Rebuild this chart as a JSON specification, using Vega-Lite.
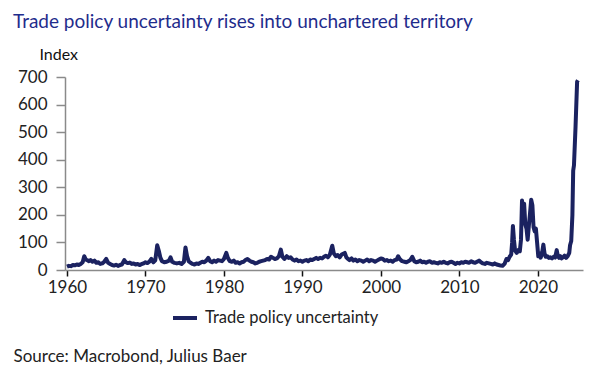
{
  "$schema": "https://vega.github.io/schema/vega-lite/v6.json",
  "width": 518,
  "height": 193,
  "autosize": {"type": "none"},
  "padding": {"left": 65, "top": 77, "right": 13, "bottom": 106},
  "background": "white",
  "config": {
    "font": "Lato",
    "view": {"stroke": null},
    "axis": {"grid": false, "labelFont": "Lato", "titleFont": "Lato"}
  },
  "title": {
    "text": "Trade policy uncertainty rises into unchartered territory",
    "anchor": "start",
    "frame": "group",
    "dx": -52,
    "dy": -10,
    "fontSize": 19,
    "fontWeight": "normal",
    "font": "Lato",
    "color": "#1f2c8c"
  },
  "data": {
    "values": [
      {"t": 1960.0, "v": 12}, {"t": 1960.25, "v": 15}, {"t": 1960.5, "v": 14}, {"t": 1960.75, "v": 18},
      {"t": 1961.0, "v": 17}, {"t": 1961.25, "v": 20}, {"t": 1961.5, "v": 18}, {"t": 1961.75, "v": 22},
      {"t": 1962.0, "v": 28}, {"t": 1962.2, "v": 50}, {"t": 1962.4, "v": 38}, {"t": 1962.6, "v": 35}, {"t": 1962.8, "v": 32},
      {"t": 1963.0, "v": 36}, {"t": 1963.25, "v": 30}, {"t": 1963.5, "v": 34}, {"t": 1963.75, "v": 26},
      {"t": 1964.0, "v": 28}, {"t": 1964.25, "v": 22}, {"t": 1964.5, "v": 24}, {"t": 1964.75, "v": 30},
      {"t": 1965.0, "v": 40}, {"t": 1965.25, "v": 26}, {"t": 1965.5, "v": 22}, {"t": 1965.75, "v": 18},
      {"t": 1966.0, "v": 16}, {"t": 1966.25, "v": 19}, {"t": 1966.5, "v": 15}, {"t": 1966.75, "v": 18},
      {"t": 1967.0, "v": 20}, {"t": 1967.3, "v": 36}, {"t": 1967.5, "v": 28}, {"t": 1967.75, "v": 25},
      {"t": 1968.0, "v": 27}, {"t": 1968.25, "v": 22}, {"t": 1968.5, "v": 24}, {"t": 1968.75, "v": 20},
      {"t": 1969.0, "v": 22}, {"t": 1969.25, "v": 18}, {"t": 1969.5, "v": 21}, {"t": 1969.75, "v": 24},
      {"t": 1970.0, "v": 28}, {"t": 1970.25, "v": 25}, {"t": 1970.5, "v": 30}, {"t": 1970.75, "v": 40},
      {"t": 1971.0, "v": 28}, {"t": 1971.25, "v": 35}, {"t": 1971.5, "v": 90}, {"t": 1971.7, "v": 70}, {"t": 1971.9, "v": 45},
      {"t": 1972.1, "v": 32}, {"t": 1972.4, "v": 28}, {"t": 1972.7, "v": 30},
      {"t": 1973.0, "v": 34}, {"t": 1973.2, "v": 46}, {"t": 1973.4, "v": 30}, {"t": 1973.7, "v": 26},
      {"t": 1974.0, "v": 24}, {"t": 1974.3, "v": 26}, {"t": 1974.6, "v": 22}, {"t": 1974.9, "v": 30},
      {"t": 1975.1, "v": 82}, {"t": 1975.3, "v": 50}, {"t": 1975.5, "v": 32}, {"t": 1975.75, "v": 26},
      {"t": 1976.0, "v": 22}, {"t": 1976.25, "v": 20}, {"t": 1976.5, "v": 24}, {"t": 1976.75, "v": 22},
      {"t": 1977.0, "v": 26}, {"t": 1977.25, "v": 30}, {"t": 1977.5, "v": 28}, {"t": 1977.75, "v": 34},
      {"t": 1978.0, "v": 44}, {"t": 1978.25, "v": 32}, {"t": 1978.5, "v": 28}, {"t": 1978.75, "v": 34},
      {"t": 1979.0, "v": 30}, {"t": 1979.25, "v": 36}, {"t": 1979.5, "v": 34}, {"t": 1979.75, "v": 32},
      {"t": 1980.0, "v": 40}, {"t": 1980.3, "v": 62}, {"t": 1980.5, "v": 44}, {"t": 1980.75, "v": 32},
      {"t": 1981.0, "v": 30}, {"t": 1981.25, "v": 34}, {"t": 1981.5, "v": 26}, {"t": 1981.75, "v": 28},
      {"t": 1982.0, "v": 24}, {"t": 1982.25, "v": 28}, {"t": 1982.5, "v": 30}, {"t": 1982.75, "v": 36},
      {"t": 1983.0, "v": 40}, {"t": 1983.25, "v": 34}, {"t": 1983.5, "v": 30}, {"t": 1983.75, "v": 28},
      {"t": 1984.0, "v": 24}, {"t": 1984.25, "v": 26}, {"t": 1984.5, "v": 30}, {"t": 1984.75, "v": 32},
      {"t": 1985.0, "v": 34}, {"t": 1985.25, "v": 36}, {"t": 1985.5, "v": 40}, {"t": 1985.75, "v": 38},
      {"t": 1986.0, "v": 48}, {"t": 1986.25, "v": 44}, {"t": 1986.5, "v": 40}, {"t": 1986.75, "v": 42},
      {"t": 1987.0, "v": 50}, {"t": 1987.25, "v": 74}, {"t": 1987.45, "v": 48}, {"t": 1987.7, "v": 40},
      {"t": 1988.0, "v": 50}, {"t": 1988.25, "v": 44}, {"t": 1988.5, "v": 46}, {"t": 1988.75, "v": 38},
      {"t": 1989.0, "v": 34}, {"t": 1989.25, "v": 38}, {"t": 1989.5, "v": 32}, {"t": 1989.75, "v": 34},
      {"t": 1990.0, "v": 30}, {"t": 1990.25, "v": 34}, {"t": 1990.5, "v": 36}, {"t": 1990.75, "v": 32},
      {"t": 1991.0, "v": 38}, {"t": 1991.25, "v": 36}, {"t": 1991.5, "v": 40}, {"t": 1991.75, "v": 44},
      {"t": 1992.0, "v": 40}, {"t": 1992.25, "v": 44}, {"t": 1992.5, "v": 42}, {"t": 1992.75, "v": 48},
      {"t": 1993.0, "v": 52}, {"t": 1993.25, "v": 46}, {"t": 1993.5, "v": 56}, {"t": 1993.8, "v": 88},
      {"t": 1994.0, "v": 60}, {"t": 1994.25, "v": 50}, {"t": 1994.5, "v": 54}, {"t": 1994.75, "v": 46},
      {"t": 1995.0, "v": 56}, {"t": 1995.4, "v": 62}, {"t": 1995.6, "v": 46}, {"t": 1995.8, "v": 40},
      {"t": 1996.0, "v": 36}, {"t": 1996.25, "v": 42}, {"t": 1996.5, "v": 34}, {"t": 1996.75, "v": 38},
      {"t": 1997.0, "v": 32}, {"t": 1997.25, "v": 36}, {"t": 1997.5, "v": 34}, {"t": 1997.75, "v": 30},
      {"t": 1998.0, "v": 34}, {"t": 1998.25, "v": 38}, {"t": 1998.5, "v": 32}, {"t": 1998.75, "v": 36},
      {"t": 1999.0, "v": 34}, {"t": 1999.25, "v": 30}, {"t": 1999.5, "v": 34}, {"t": 1999.75, "v": 38},
      {"t": 2000.0, "v": 42}, {"t": 2000.25, "v": 40}, {"t": 2000.5, "v": 34}, {"t": 2000.75, "v": 36},
      {"t": 2001.0, "v": 32}, {"t": 2001.25, "v": 34}, {"t": 2001.5, "v": 30}, {"t": 2001.75, "v": 36},
      {"t": 2002.0, "v": 38}, {"t": 2002.2, "v": 50}, {"t": 2002.4, "v": 40}, {"t": 2002.7, "v": 32},
      {"t": 2003.0, "v": 30}, {"t": 2003.25, "v": 28}, {"t": 2003.5, "v": 32}, {"t": 2003.75, "v": 36},
      {"t": 2004.0, "v": 48}, {"t": 2004.25, "v": 32}, {"t": 2004.5, "v": 28}, {"t": 2004.75, "v": 30},
      {"t": 2005.0, "v": 34}, {"t": 2005.25, "v": 28}, {"t": 2005.5, "v": 30}, {"t": 2005.75, "v": 26},
      {"t": 2006.0, "v": 30}, {"t": 2006.25, "v": 32}, {"t": 2006.5, "v": 26}, {"t": 2006.75, "v": 28},
      {"t": 2007.0, "v": 26}, {"t": 2007.25, "v": 24}, {"t": 2007.5, "v": 28}, {"t": 2007.75, "v": 26},
      {"t": 2008.0, "v": 30}, {"t": 2008.25, "v": 26}, {"t": 2008.5, "v": 24}, {"t": 2008.75, "v": 28},
      {"t": 2009.0, "v": 30}, {"t": 2009.25, "v": 26}, {"t": 2009.5, "v": 22}, {"t": 2009.75, "v": 26},
      {"t": 2010.0, "v": 24}, {"t": 2010.25, "v": 28}, {"t": 2010.5, "v": 26}, {"t": 2010.75, "v": 30},
      {"t": 2011.0, "v": 28}, {"t": 2011.25, "v": 26}, {"t": 2011.5, "v": 32}, {"t": 2011.75, "v": 28},
      {"t": 2012.0, "v": 26}, {"t": 2012.25, "v": 30}, {"t": 2012.5, "v": 34}, {"t": 2012.75, "v": 28},
      {"t": 2013.0, "v": 24}, {"t": 2013.25, "v": 22}, {"t": 2013.5, "v": 26}, {"t": 2013.75, "v": 24},
      {"t": 2014.0, "v": 22}, {"t": 2014.25, "v": 20}, {"t": 2014.5, "v": 24}, {"t": 2014.75, "v": 20},
      {"t": 2015.0, "v": 18}, {"t": 2015.25, "v": 16}, {"t": 2015.5, "v": 15}, {"t": 2015.75, "v": 22},
      {"t": 2016.0, "v": 40}, {"t": 2016.2, "v": 36}, {"t": 2016.4, "v": 48}, {"t": 2016.6, "v": 56},
      {"t": 2016.72, "v": 100}, {"t": 2016.82, "v": 160}, {"t": 2016.95, "v": 110}, {"t": 2017.1, "v": 70},
      {"t": 2017.3, "v": 62}, {"t": 2017.5, "v": 72}, {"t": 2017.7, "v": 68}, {"t": 2017.85, "v": 110},
      {"t": 2017.98, "v": 252}, {"t": 2018.12, "v": 200}, {"t": 2018.25, "v": 240}, {"t": 2018.4, "v": 165},
      {"t": 2018.55, "v": 150}, {"t": 2018.7, "v": 110}, {"t": 2018.85, "v": 160}, {"t": 2019.0, "v": 205},
      {"t": 2019.15, "v": 255}, {"t": 2019.3, "v": 235}, {"t": 2019.45, "v": 155}, {"t": 2019.6, "v": 140},
      {"t": 2019.75, "v": 150}, {"t": 2019.9, "v": 100}, {"t": 2020.05, "v": 50}, {"t": 2020.2, "v": 60},
      {"t": 2020.35, "v": 45}, {"t": 2020.5, "v": 55}, {"t": 2020.7, "v": 92}, {"t": 2020.85, "v": 60},
      {"t": 2021.0, "v": 48}, {"t": 2021.2, "v": 50}, {"t": 2021.4, "v": 44}, {"t": 2021.6, "v": 46},
      {"t": 2021.8, "v": 42}, {"t": 2022.0, "v": 48}, {"t": 2022.2, "v": 45}, {"t": 2022.4, "v": 72},
      {"t": 2022.55, "v": 50}, {"t": 2022.7, "v": 44}, {"t": 2022.85, "v": 50}, {"t": 2023.0, "v": 42},
      {"t": 2023.2, "v": 46}, {"t": 2023.4, "v": 52}, {"t": 2023.6, "v": 44}, {"t": 2023.8, "v": 50},
      {"t": 2024.0, "v": 62}, {"t": 2024.1, "v": 90}, {"t": 2024.25, "v": 105}, {"t": 2024.4, "v": 200},
      {"t": 2024.5, "v": 360}, {"t": 2024.6, "v": 380}, {"t": 2024.8, "v": 520}, {"t": 2025.0, "v": 683},
      {"t": 2025.1, "v": 688}
    ]
  },
  "mark": {"type": "line", "strokeWidth": 4, "strokeJoin": "round", "strokeCap": "butt"},
  "encoding": {
    "x": {
      "field": "t",
      "type": "quantitative",
      "scale": {"domain": [1959.75, 2025.75], "nice": false, "zero": false},
      "axis": {
        "values": [1960, 1970, 1980, 1990, 2000, 2010, 2020],
        "format": "d",
        "title": "Source: Macrobond, Julius Baer",
        "titleX": -52,
        "titleY": 91,
        "titleAlign": "left",
        "titleBaseline": "alphabetic",
        "titleFontSize": 17,
        "titleFontWeight": "normal",
        "titleColor": "#222222",
        "labelFontSize": 17,
        "labelColor": "#222222",
        "labelPadding": 3,
        "domainColor": "#8a8a8a",
        "domainWidth": 1.5,
        "tickColor": "#111111",
        "tickWidth": 1.5,
        "tickSize": 6
      }
    },
    "y": {
      "field": "v",
      "type": "quantitative",
      "scale": {"domain": [0, 700], "nice": false},
      "axis": {
        "values": [0, 100, 200, 300, 400, 500, 600, 700],
        "title": "Index",
        "titleAngle": 0,
        "titleX": -26,
        "titleY": -18,
        "titleAlign": "left",
        "titleBaseline": "alphabetic",
        "titleFontSize": 16,
        "titleFontWeight": "normal",
        "titleColor": "#111111",
        "labelFontSize": 17,
        "labelColor": "#222222",
        "labelPadding": 9,
        "domainColor": "#8a8a8a",
        "domainWidth": 1.5,
        "tickColor": "#8a8a8a",
        "tickWidth": 1.5,
        "tickSize": 9
      }
    },
    "color": {
      "datum": "Trade policy uncertainty",
      "type": "nominal",
      "scale": {"range": ["#1b2260"]},
      "legend": {
        "orient": "none",
        "legendX": 106,
        "legendY": 227,
        "title": null,
        "symbolType": "stroke",
        "symbolSize": 576,
        "symbolStrokeWidth": 4,
        "labelFontSize": 16.5,
        "labelLimit": 400,
        "labelColor": "#222222",
        "labelFont": "Lato",
        "labelOffset": 6
      }
    }
  }
}
